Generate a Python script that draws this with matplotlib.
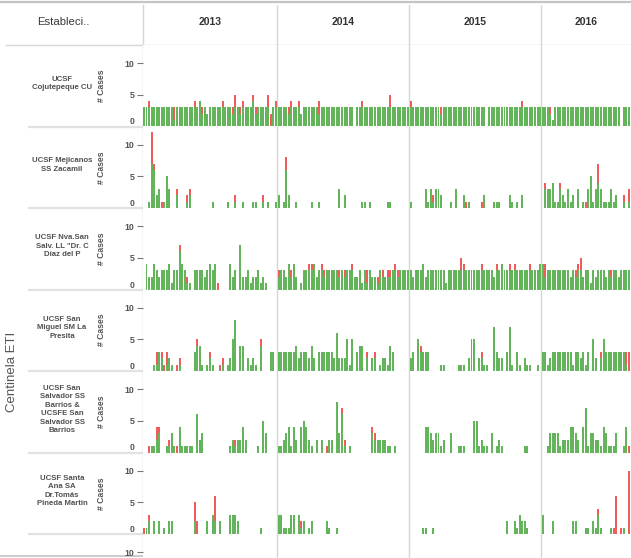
import matplotlib
matplotlib.use("Agg")
import matplotlib.pyplot as plt
import numpy as np

plt.rcParams['font.family'] = ['Liberation Sans', 'DejaVu Sans']

# ---------------- data ----------------
YEARS = ['2013', '2014', '2015', '2016']
WEEKS_PER_YEAR = [53, 52, 52, 35]

ESTABLECIMIENTOS = [
    "UCSF\nCojutepeque CU",
    "UCSF Mejicanos\nSS Zacamil",
    "UCSF Nva.San\nSalv. LL \"Dr. C\nDíaz del P",
    "UCSF San\nMiguel SM La\nPresita",
    "UCSF San\nSalvador SS\nBarrios &\nUCSFE San\nSalvador SS\nBarrios",
    "UCSF Santa\nAna SA\nDr.Tomás\nPineda Martin",
]

# green = cases (main), red = cases (second category), weekly, per year
R1_G_2013 = [3,3,3,3,3,3,3,3,3,3, 3,3,1,3,3,3,3,3,3,3, 3,3,4,2,3,2,3,3,3,3, 3,3,3,3,3,2,3,3,2,3, 3,3,3,4,2,3,3,3,3,3, 0,3,3]
R1_G_2014 = [3,3,3,3,2,3,3,3,3,2, 3,3,3,3,3,3,2,3,3,3, 3,3,3,3,3,3,3,3,3,3, 0,3,3,3,3,3,3,3,3,3, 3,3,3,3,3,3,3,3,3,3, 3,3]
R1_G_2015 = [3,3,3,3,3,3,3,3,3,3, 3,3,2,3,3,3,3,3,3,3, 3,3,3,3,3,3,3,3,3,3, 0,3,3,3,3,3,3,3,3,3, 3,3,3,3,3,3,3,3,3,3, 3,3]
R1_G_2016 = [3,3,3,2,1,3,3,3,3,3, 3,3,3,3,3,3,3,3,3,3, 3,3,3,3,3,3,3,3,3,3, 3,0,3,3,3]
R1_R = [{2:1, 12:2, 20:1, 23:1, 31:1, 35:1, 36:2, 38:1, 39:1, 43:1, 44:1, 49:2, 50:2, 52:1},
        {4:1, 5:1, 8:1, 16:2, 33:1, 44:2},
        {0:1, 12:1, 44:1},
        {3:1}]

R2_G_2013 = [0,0,1,7,6,2,3,0,1,5, 3,0,0,2,0,0,0,1,2,0, 0,0,0,0,0,0,0,1,0,0, 0,0,0,1,0,0,1,0,0,1, 0,0,0,1,1,0,0,1,0,1, 0,0,1]
R2_G_2014 = [2,0,1,6,2,0,0,1,0,0, 0,0,0,1,0,0,1,0,0,0, 0,0,0,0,3,0,2,0,0,0, 0,0,0,1,1,0,1,0,0,0, 0,0,0,1,1,0,0,0,0,0, 0,0]
R2_G_2015 = [1,0,0,0,0,0,3,1,3,1, 3,3,2,0,0,0,1,0,3,0, 0,2,0,1,0,0,0,0,0,2, 0,0,0,1,1,1,0,0,0,2, 1,0,1,0,2,0,0,0,0,0, 0,0]
R2_G_2016 = [0,3,3,3,4,1,1,3,2,1, 3,1,2,0,3,0,1,0,3,5, 1,3,4,3,1,1,1,3,1,2, 0,0,1,0,1]
R2_R = [{3:5, 4:1, 7:1, 13:1, 17:1, 18:1, 36:1, 47:1},
        {3:2},
        {9:1, 22:1, 28:1},
        {1:1, 7:1, 17:1, 22:3, 32:1, 34:2}]

R3_G_2013 = [0,4,2,2,4,3,2,3,3,3, 4,1,3,3,6,4,3,1,1,0, 3,3,3,3,2,3,4,3,4,0, 0,0,0,0,4,2,3,0,7,2, 2,3,1,2,2,3,1,2,1,0, 0,0,0]
R3_G_2014 = [2,3,3,2,4,2,4,2,0,1, 3,3,3,3,4,2,3,3,2,3, 3,3,3,3,2,3,2,3,3,3, 2,2,3,1,3,1,3,2,2,1, 3,2,2,2,2,3,3,2,3,3, 3,3]
R3_G_2015 = [3,2,3,3,3,4,2,3,3,3, 3,3,3,3,1,3,3,3,3,3, 3,3,3,3,3,3,3,3,3,3, 3,3,3,2,3,3,4,3,3,3, 3,3,3,3,3,3,3,3,3,3, 3,4]
R3_G_2016 = [4,2,3,3,3,3,3,3,3,3, 3,2,3,2,3,3,2,3,3,1, 3,2,3,3,3,2,3,2,3,3, 2,3,3,3,3]
R3_R = [{14:1, 17:1, 29:1},
        {0:1, 5:1, 12:1, 13:1, 17:1, 18:1, 24:1, 26:1, 29:1, 35:2, 39:1, 41:1, 43:1, 44:1, 46:1, 47:1},
        {20:2, 21:1, 28:1, 34:1, 39:1, 41:1, 47:1},
        {1:2, 13:1, 14:1, 15:2, 27:1}]

R4_G_2013 = [0,0,0,0,1,1,3,2,0,1, 2,1,0,0,1,0,0,0,0,0, 3,4,4,1,0,1,2,1,0,0, 0,1,0,1,2,5,8,0,4,4, 0,2,1,2,1,0,4,0,0,0, 3,3,0]
R4_G_2014 = [3,3,3,3,3,3,3,4,2,3, 3,3,2,4,2,0,3,3,3,3, 3,3,2,6,2,2,2,5,1,5, 0,3,4,4,0,2,0,2,2,0, 1,2,2,1,4,3,0,0,0,0, 0,0]
R4_G_2015 = [2,3,0,5,3,3,3,3,0,0, 0,0,1,1,0,0,0,0,0,1, 1,1,0,2,5,5,0,2,2,1, 1,0,0,7,3,2,2,0,3,7, 1,0,3,1,0,2,1,1,0,0, 1,0]
R4_G_2016 = [3,3,1,2,3,3,3,3,3,3, 3,3,1,3,3,2,3,1,3,0, 5,2,0,2,5,3,3,3,3,3, 3,3,3,1,0]
R4_R = [{5:2, 7:1, 8:1, 9:2, 13:1, 14:1, 21:1, 26:1, 30:1, 31:1, 46:1},
        {35:1, 38:1},
        {4:1, 28:1},
        {23:1, 33:2, 34:3}]

R5_G_2013 = [0,0,0,1,1,2,3,0,0,1, 1,3,1,0,4,1,1,1,1,1, 0,6,2,3,0,0,0,0,0,0, 0,0,0,0,1,2,1,2,2,4, 2,0,0,0,0,1,0,5,3,0, 0,0,0]
R5_G_2014 = [1,1,2,3,4,1,4,2,0,4, 5,4,2,1,0,2,0,2,0,0, 2,2,0,8,3,6,1,0,1,0, 0,0,0,0,0,0,0,3,2,2, 2,2,2,1,1,0,1,0,0,0, 0,0]
R5_G_2015 = [0,0,0,0,0,0,4,4,3,2, 3,3,1,2,0,0,3,0,0,1, 1,1,0,0,0,5,5,1,2,1, 1,0,3,0,1,2,1,0,0,0, 0,0,0,0,0,1,1,0,0,0, 0,0]
R5_G_2016 = [0,0,1,3,3,3,3,1,2,2, 2,4,4,3,2,0,4,7,1,3, 3,2,2,1,4,3,1,1,1,3, 0,0,1,4,0]
R5_R = [{2:1, 5:2, 6:1, 10:1, 13:1, 36:1},
        {19:1, 25:1, 26:1, 37:1, 38:1},
        {},
        {34:1}]

R6_G_2013 = [0,1,2,0,2,0,2,0,1,0, 2,2,0,0,0,0,0,0,0,0, 2,0,0,0,0,2,0,3,2,0, 2,0,0,0,3,3,3,2,0,0, 0,0,0,0,0,0,1,0,0,0, 0,0,0]
R6_G_2014 = [3,3,1,1,1,3,3,0,3,1, 2,0,1,2,0,0,0,0,0,2, 1,0,0,1,0,0,0,0,0,0, 0,0,0,0,0,0,0,0,0,0, 0,0,0,0,0,0,0,0,0,0, 0,0]
R6_G_2015 = [0,0,0,0,0,1,1,0,0,1, 0,0,0,0,0,0,0,0,0,0, 0,0,0,0,0,0,0,0,0,0, 0,0,0,0,0,0,0,0,2,0, 0,2,1,3,2,2,1,0,0,0, 0,0]
R6_G_2016 = [3,0,0,0,2,0,0,0,0,0, 0,0,2,2,0,0,0,1,1,0, 2,1,3,1,0,0,0,1,0,0, 0,0,1,0,0]
R6_R = [{0:1, 2:1, 20:3, 21:2, 28:4},
        {9:1},
        {},
        {22:1, 28:1, 29:6, 31:1, 34:10}]

GREEN_ROWS = [
    [R1_G_2013, R1_G_2014, R1_G_2015, R1_G_2016],
    [R2_G_2013, R2_G_2014, R2_G_2015, R2_G_2016],
    [R3_G_2013, R3_G_2014, R3_G_2015, R3_G_2016],
    [R4_G_2013, R4_G_2014, R4_G_2015, R4_G_2016],
    [R5_G_2013, R5_G_2014, R5_G_2015, R5_G_2016],
    [R6_G_2013, R6_G_2014, R6_G_2015, R6_G_2016],
]
RED_ROWS = [R1_R, R2_R, R3_R, R4_R, R5_R, R6_R]

Y_TICKS = [0, 5, 10]

# ---------------- styling / layout ----------------
GREEN = '#63b45b'
RED = '#ee5c5c'
GRID = '#d6d6d6'
TXT = '#555555'

W, H = 631, 558
fig = plt.figure(figsize=(W / 100, H / 100), dpi=100)

PANEL_L = 142.7
SLOT = 2.539
XMIN = -0.5
XMAX = XMIN + (W - PANEL_L) / SLOT
ROW_TOP0 = 45.0
ROW_H = 81.5
YMAX = 12.85
N_ROWS_DRAWN = 7

def fx(px):
    return px / W

def fy(py):
    return 1 - py / H

year_starts = np.cumsum([0] + WEEKS_PER_YEAR[:-1])
boundaries = [s - 0.5 for s in year_starts[1:]]

# background lines
bg = fig.add_axes([0, 0, 1, 1], zorder=-5)
bg.set_xlim(0, W)
bg.set_ylim(H, 0)
bg.axis('off')
bg.plot([0, W], [2, 2], color='#c4c4c4', lw=1.6)
bg.plot([6, W], [44.5, 44.5], color=GRID, lw=1.0)
for r in range(6):
    yb = ROW_TOP0 + (r + 1) * ROW_H
    bg.plot([29, W], [yb, yb], color='#e2e2e2', lw=1.6)
bg.plot([PANEL_L, PANEL_L], [5, 554], color=GRID, lw=1.0)
bg.plot([0, W], [555.5, 555.5], color='#c4c4c4', lw=1.2)

# header
hdr = fig.add_axes([fx(PANEL_L), fy(44.5), 1 - fx(PANEL_L), (44.5 - 5) / H])
hdr.set_xlim(XMIN, XMAX)
hdr.set_ylim(0, 1)
hdr.axis('off')
for b in boundaries:
    hdr.axvline(b, color=GRID, lw=1.0)
for y, s, n in zip(YEARS, year_starts, WEEKS_PER_YEAR):
    left = s - 0.5
    right = min(s + n - 0.5, XMAX)
    hdr.text((left + right) / 2, 0.56, y, ha='center', va='center',
             fontsize=7.5, fontweight='bold', color='#333333')
fig.text(fx(63), fy(22), 'Estableci..', ha='center', va='center',
         fontsize=8.2, color='#3a3a3a')

fig.text(fx(12), fy(372), 'Centinela ETI', ha='center', va='center',
         rotation=90, fontsize=9.5, color=TXT)

# rows
for r in range(N_ROWS_DRAWN):
    top = ROW_TOP0 + r * ROW_H
    ax = fig.add_axes([fx(PANEL_L), fy(top + ROW_H), 1 - fx(PANEL_L), ROW_H / H])
    ax.set_xlim(XMIN, XMAX)
    ax.set_ylim(0, YMAX)
    for sp in ax.spines.values():
        sp.set_visible(False)
    for b in boundaries:
        ax.axvline(b, color=GRID, lw=1.0, zorder=0)
    ax.set_xticks([])
    ticks_here = Y_TICKS if r < len(GREEN_ROWS) else Y_TICKS[-1:]
    ax.set_yticks(ticks_here)
    ax.set_yticklabels([str(t) for t in ticks_here])
    ax.tick_params(axis='y', length=4.5, width=0.8, color='#777777', pad=1.5,
                   labelsize=6.3, labelcolor=TXT)
    for lab in ax.get_yticklabels():
        lab.set_fontweight('bold')
    if r < len(GREEN_ROWS):
        t0 = ax.yaxis.get_major_ticks()[0]
        t0.tick1line.set_visible(False)
        t0.label1.set_va('bottom')
        g_all, r_all, x_all = [], [], []
        for yi, (gl, rd) in enumerate(zip(GREEN_ROWS[r], RED_ROWS[r])):
            for k, gv in enumerate(gl):
                x_all.append(year_starts[yi] + k)
                g_all.append(gv)
                r_all.append(rd.get(k, 0))
        x_all = np.array(x_all)
        g_all = np.array(g_all)
        r_all = np.array(r_all)
        ax.bar(x_all, g_all, width=0.78, color=GREEN, linewidth=0, zorder=2)
        ax.bar(x_all, r_all, bottom=g_all, width=0.78, color=RED, linewidth=0, zorder=2)
        ax.set_ylabel('# Cases', fontsize=6.2, fontweight='bold', color=TXT)
        ax.yaxis.set_label_coords((106 - PANEL_L) / (W - PANEL_L), 0.5)
        fig.text(fx(62), fy(top + ROW_H * 0.47), ESTABLECIMIENTOS[r],
                 ha='center', va='center', fontsize=5.6, fontweight='bold',
                 color='#505050', linespacing=1.3)

fig.savefig('out.png', dpi=100)
